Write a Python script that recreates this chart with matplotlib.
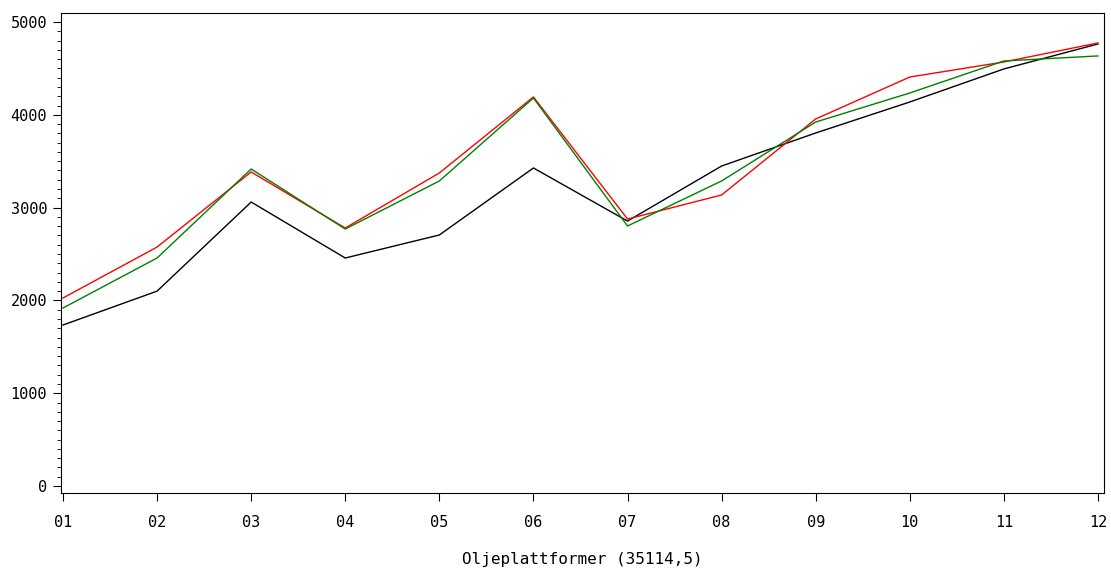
import matplotlib.pyplot as plt
from matplotlib.ticker import MultipleLocator

months = ['01', '02', '03', '04', '05', '06', '07', '08', '09', '10', '11', '12']
black = [1735, 2100, 3060, 2457, 2705, 3427, 2855, 3448, 3804, 4138, 4494, 4763]
red = [2026, 2575, 3384, 2780, 3373, 4192, 2877, 3136, 3955, 4407, 4569, 4774]
green = [1918, 2457, 3416, 2769, 3287, 4181, 2802, 3287, 3922, 4235, 4580, 4634]
xlabel = 'Oljeplattformer (35114,5)'


def main():
    plt.rcParams['font.family'] = 'DejaVu Sans Mono'
    fig = plt.figure(figsize=(11.11, 5.74), dpi=100)
    ax = fig.add_axes([0.0549, 0.1411, 0.9388, 0.8363])

    x = list(range(1, len(months) + 1))
    ax.plot(x, black, color='black', lw=1)
    ax.plot(x, red, color='#ff0000', lw=1)
    ax.plot(x, green, color='#008000', lw=1)

    ax.set_xlim(0.979, 12.064)
    ax.set_ylim(-75, 5097)
    ax.set_xticks(x)
    ax.set_xticklabels(months)
    ax.yaxis.set_major_locator(MultipleLocator(1000))
    ax.yaxis.set_minor_locator(MultipleLocator(100))
    ax.tick_params(axis='both', labelsize=11, direction='out')
    ax.tick_params(axis='y', which='major', length=6, pad=4)
    ax.tick_params(axis='y', which='minor', length=3)
    ax.tick_params(axis='x', length=6, pad=10)
    ax.set_xlabel(xlabel, fontsize=11.5, labelpad=16)

    fig.savefig('out.png', dpi=100)


if __name__ == '__main__':
    main()
